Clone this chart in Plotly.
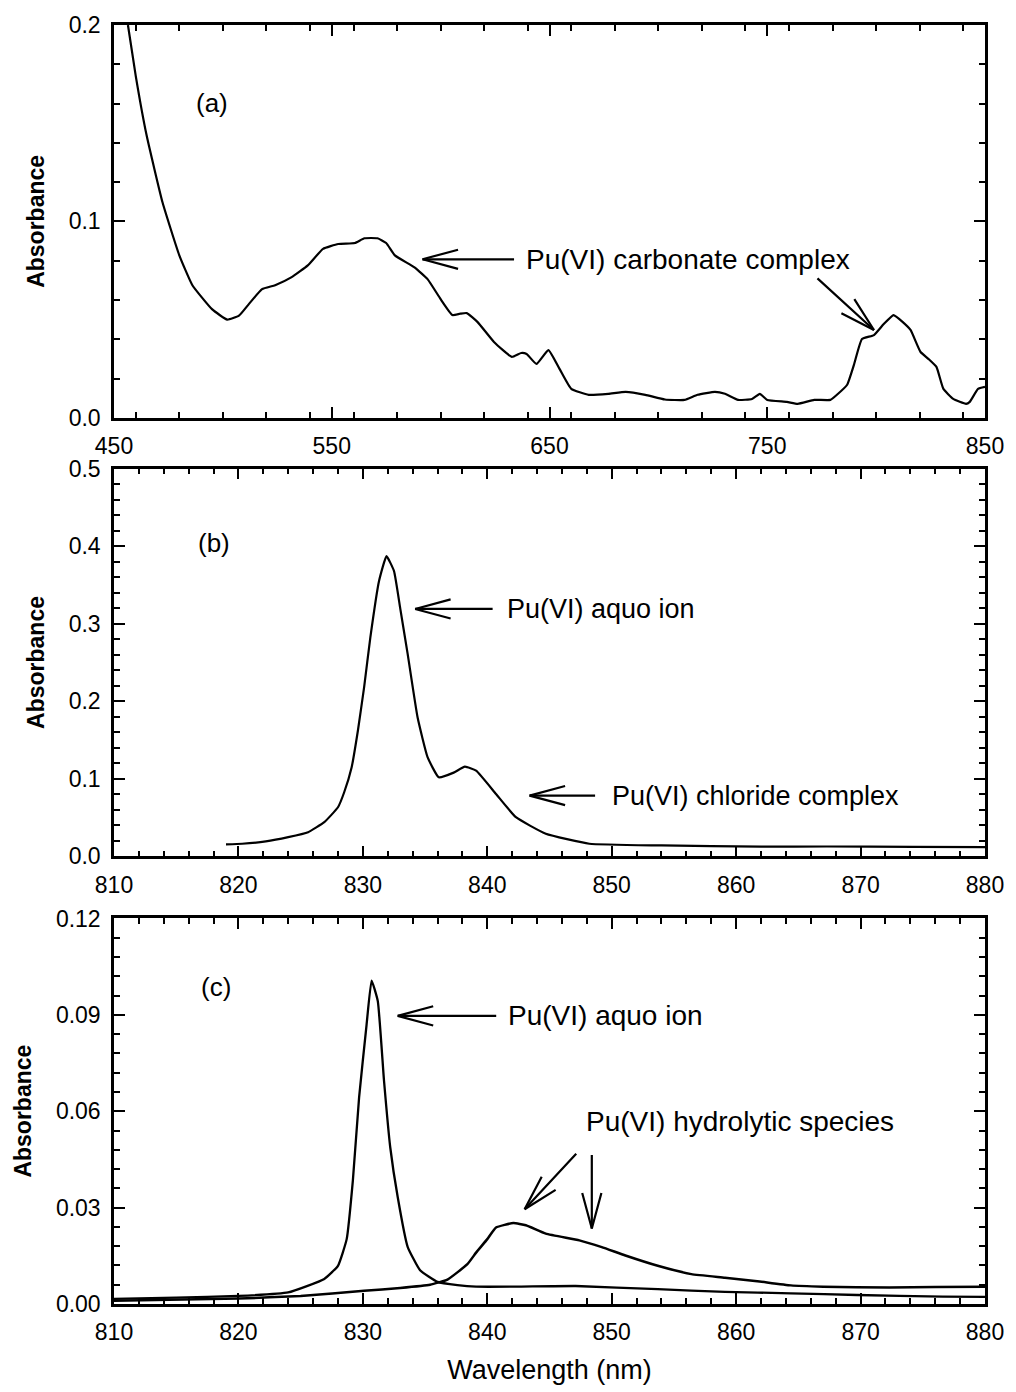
import math
import plotly.graph_objects as go

# ---------------- data ----------------
# (a) Pu(VI) carbonate complex, 450-850 nm
a_nm = [456.4, 460, 465, 472.3, 480, 486, 495, 502, 507.4, 512, 518, 524, 531.6, 539, 546, 553,
        560.6, 565, 571, 575, 579, 588, 594, 600, 605.4, 609, 612, 617, 624.5, 632.7, 637, 639.5,
        644, 649.5, 654.6, 660, 668, 677, 685, 694, 703, 712, 718, 726, 730.6, 736.6, 743, 746.6,
        750, 759, 764, 771.6, 779, 782, 786.7, 789.8, 793.5, 799, 803.5, 808, 812, 815.8, 820.4,
        824, 827.7, 830.9, 835.4, 841.3, 843, 846.8, 850]
a_abs = [0.200, 0.174, 0.1437, 0.1096, 0.0827, 0.0675, 0.0553, 0.0500, 0.0520, 0.0580, 0.0655,
         0.0675, 0.0716, 0.0776, 0.0860, 0.0885, 0.0890, 0.0914, 0.0914, 0.0890, 0.0827, 0.0766,
         0.0706, 0.0604, 0.0523, 0.0530, 0.0533, 0.0487, 0.0386, 0.0310, 0.0330, 0.0325, 0.0274,
         0.0345, 0.0249, 0.0147, 0.0117, 0.0122, 0.0132, 0.0117, 0.0093, 0.0091, 0.0117, 0.0132,
         0.0122, 0.0091, 0.0096, 0.0122, 0.0091, 0.0081, 0.0071, 0.0091, 0.0091, 0.0117, 0.0168,
         0.0269, 0.0401, 0.0421, 0.0477, 0.0523, 0.0490, 0.0447, 0.0335, 0.0300, 0.0259, 0.0147,
         0.0096, 0.0071, 0.0081, 0.0147, 0.0157]

# (b) aquo ion + chloride complex, 819-880 nm
b_nm = [819.0, 820.3, 822.2, 824.0, 825.6, 826.9, 828.0, 828.5, 829.1, 829.6, 830.1, 830.6, 831.3,
        831.9, 832.5, 833.0, 833.6, 834.4, 835.2, 836.1, 837.3, 838.2, 839.1, 840.7, 842.3, 844.7,
        848.2, 854.0, 862.0, 867.3, 874.2, 880.0]
b_abs = [0.0154, 0.0163, 0.0193, 0.0248, 0.0312, 0.0441, 0.0634, 0.0827, 0.115, 0.162, 0.218,
         0.282, 0.355, 0.387, 0.368, 0.320, 0.261, 0.179, 0.128, 0.102, 0.108, 0.1157, 0.1105,
         0.0805, 0.0505, 0.0292, 0.0163, 0.0141, 0.0125, 0.0128, 0.0122, 0.0120]

# (c) aquo ion spectrum
c_aquo_nm = [810, 815, 820, 824.0, 826.9, 828.0, 828.7, 829.2, 829.7, 830.3, 830.7, 831.2, 831.7,
             832.2, 832.8, 833.6, 834.6, 836.0, 837.6, 839.1, 842.3, 847.1, 853.7, 859.1, 864.4,
             869.7, 876.6, 880]
c_aquo_abs = [0.0016, 0.0020, 0.0025, 0.0036, 0.0078, 0.0119, 0.0202, 0.0386, 0.0644, 0.0870,
              0.1007, 0.0943, 0.0695, 0.0488, 0.0333, 0.0178, 0.0105, 0.0069, 0.0059, 0.0054,
              0.0054, 0.0056, 0.0046, 0.0038, 0.0033, 0.0028, 0.0023, 0.0022]

# (c) hydrolytic species spectrum
c_hyd_nm = [810, 820, 825, 830.1, 833, 835.4, 836.8, 838.4, 839.1, 840.0, 840.7, 842.1, 843.1,
            844.7, 847.4, 849.2, 851.1, 853.7, 856.4, 859.1, 861.7, 864.4, 867, 872.3, 876, 880]
c_hyd_abs = [0.0010, 0.0017, 0.0025, 0.0041, 0.0050, 0.0060, 0.0076, 0.0124, 0.0160, 0.0202,
             0.0238, 0.0252, 0.0245, 0.0219, 0.0198, 0.0177, 0.0151, 0.0119, 0.0093, 0.0082,
             0.0071, 0.0058, 0.0054, 0.0051, 0.0053, 0.0054]

FONT = "Liberation Sans, Arial, Helvetica, sans-serif"

fig = go.Figure()
line = dict(color="black", width=2.2, shape="spline", smoothing=0.4)
fig.add_trace(go.Scatter(x=a_nm, y=a_abs, mode="lines", line=line, xaxis="x", yaxis="y"))
fig.add_trace(go.Scatter(x=b_nm, y=b_abs, mode="lines", line=line, xaxis="x2", yaxis="y2"))
fig.add_trace(go.Scatter(x=c_aquo_nm, y=c_aquo_abs, mode="lines", line=dict(line, width=2.3),
                         xaxis="x3", yaxis="y3"))
fig.add_trace(go.Scatter(x=c_hyd_nm, y=c_hyd_abs, mode="lines", line=dict(line, width=2.5),
                         xaxis="x3", yaxis="y3"))


def ax_style(**kw):
    d = dict(showline=True, linecolor="black", linewidth=2.5, mirror="ticks",
             ticks="inside", ticklen=11, tickwidth=2, tickcolor="black",
             showgrid=False, zeroline=False, ticklabelstandoff=6,
             tickfont=dict(family=FONT, size=23, color="black"),
             minor=dict(ticks="inside", ticklen=6, tickwidth=1.5, tickcolor="black", showgrid=False))
    minor_dtick = kw.pop("minor_dtick")
    d["minor"]["dtick"] = minor_dtick
    d.update(kw)
    return d


ytitle = dict(text="<b>Absorbance</b>", font=dict(family=FONT, size=23, color="black"), standoff=18)

layout = dict(
    width=1016, height=1392,
    margin=dict(l=114, r=23, t=22, b=87),
    paper_bgcolor="white", plot_bgcolor="white",
    showlegend=False,
    xaxis=ax_style(domain=[0, 1], anchor="y", range=[450, 850], tick0=450, dtick=100, minor_dtick=20),
    yaxis=ax_style(domain=[0.6929, 1], anchor="x", range=[0, 0.2], dtick=0.1, tickformat=".1f",
                   minor_dtick=0.02, title=ytitle),
    xaxis2=ax_style(domain=[0, 1], anchor="y2", range=[810, 880], dtick=10, minor_dtick=2),
    yaxis2=ax_style(domain=[0.34996, 0.6532], anchor="x2", range=[0, 0.5], dtick=0.1, tickformat=".1f",
                    minor_dtick=0.02, title=ytitle),
    xaxis3=ax_style(domain=[0, 1], anchor="y3", range=[810, 880], dtick=10, minor_dtick=2,
                    title=dict(text="Wavelength (nm)", font=dict(family=FONT, size=27, color="black"),
                               standoff=16)),
    yaxis3=ax_style(domain=[0, 0.3016], anchor="x3", range=[0, 0.1201], tick0=0, dtick=0.03,
                    tickformat=".2f", minor_dtick=0.006, title=ytitle),
)
fig.update_layout(**layout)

ann_font = dict(family=FONT, size=28, color="black")
ann_font_b = dict(family=FONT, size=27, color="black")
lab_font = dict(family=FONT, size=26, color="black")

# panel labels and annotation texts (xref/yref in data units)
texts = [
    ("x", "y", 495.1, 0.1604, "(a)", "center", lab_font),
    ("x", "y", 638.2, 0.0807, "Pu(VI) carbonate complex", "left", ann_font),
    ("x2", "y2", 818.0, 0.404, "(b)", "center", lab_font),
    ("x2", "y2", 841.4, 0.319, "Pu(VI) aquo ion", "left", ann_font_b),
    ("x2", "y2", 849.9, 0.0784, "Pu(VI) chloride complex", "left", ann_font_b),
    ("x3", "y3", 818.2, 0.0986, "(c)", "center", lab_font),
    ("x3", "y3", 841.5, 0.0897, "Pu(VI) aquo ion", "left", ann_font),
    ("x3", "y3", 847.8, 0.0567, "Pu(VI) hydrolytic species", "left", ann_font),
]
for xr, yr, x, y, t, anc, f in texts:
    fig.add_annotation(xref=xr, yref=yr, x=x, y=y, text=t, showarrow=False,
                       xanchor=anc, yanchor="middle", font=f)

# arrows: tip in data units, tail as pixel offset from tip; open "V" heads
arrows = [
    ("x", "y", 591.7, 0.0807, 93, 0),
    ("x", "y", 799.0, 0.0447, -58, -53),
    ("x2", "y2", 834.2, 0.319, 79, 0),
    ("x2", "y2", 843.4, 0.0784, 67, 0),
    ("x3", "y3", 832.8, 0.0897, 100, 0),
    ("x3", "y3", 843.0, 0.0295, 53, -57),
    ("x3", "y3", 848.4, 0.0235, 0, -75),
]
HEAD_LEN, HEAD_HALF = 37, 10
for xr, yr, x, y, dx, dy in arrows:
    common = dict(xref=xr, yref=yr, x=x, y=y, text="", showarrow=True, arrowhead=0,
                  arrowwidth=2.2, arrowcolor="black", standoff=0, startstandoff=0)
    fig.add_annotation(ax=dx, ay=dy, **common)
    L = math.hypot(dx, dy)
    ux, uy = dx / L, dy / L
    px, py = -uy, ux
    for s in (1, -1):
        bx = ux * HEAD_LEN + s * px * HEAD_HALF
        by = uy * HEAD_LEN + s * py * HEAD_HALF
        fig.add_annotation(ax=bx, ay=by, **common)

fig.write_html("out.html")
